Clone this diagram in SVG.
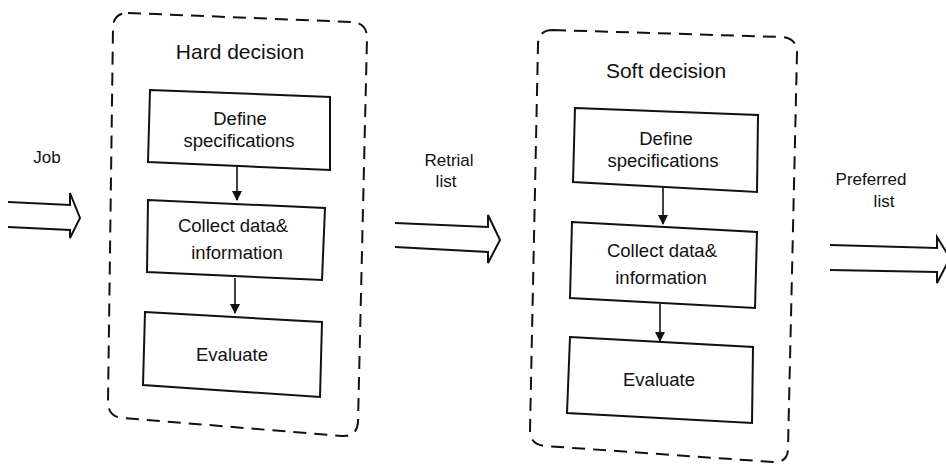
<svg xmlns="http://www.w3.org/2000/svg" width="946" height="465" viewBox="0 0 946 465">
<style>
.cont{fill:none;stroke:#111;stroke-width:2;stroke-dasharray:13 8}
.box{fill:#fff;stroke:#111;stroke-width:2}
.t{font-family:"Liberation Sans",Arial,sans-serif;font-size:18.5px;fill:#111;text-anchor:middle}
.s{font-family:"Liberation Sans",Arial,sans-serif;font-size:17px;fill:#111;text-anchor:middle}
.title{font-family:"Liberation Sans",Arial,sans-serif;font-size:21px;fill:#111;text-anchor:middle}
.big{fill:none;stroke:#111;stroke-width:2;stroke-linejoin:miter}
.link{stroke:#111;stroke-width:1.6;fill:none}
</style>
<defs>
<marker id="ah" markerWidth="10" markerHeight="12" refX="9" refY="5" orient="auto" markerUnits="userSpaceOnUse">
<path d="M0,0 L10,5 L0,10 Z" fill="#111"/>
</marker>
</defs>
<rect width="946" height="465" fill="#fff"/>

<g id="hard-decision">
<path class="cont" d="M128,13 L352,22 Q367,23 367,38 L358,422 Q357,437 342,436 L123,418 Q108,417 108,402 L113,28 Q113,13 128,13 Z"/>
<text class="title" x="240" y="59">Hard decision</text>
</g>
<g id="hard-define">
<path class="box" d="M150,90 L330,97 L330,170 L148,162 Z"/>
<text class="t" x="240" y="125">Define</text>
<text class="t" x="239" y="147">specifications</text>
</g>
<g id="hard-collect">
<path class="box" d="M148,200 L325,208 L322,280 L147,272 Z"/>
<text class="t" x="233" y="232">Collect data&amp;</text>
<text class="t" x="237" y="259">information</text>
</g>
<g id="hard-evaluate">
<path class="box" d="M145,312 L322,322 L320,397 L143,385 Z"/>
<text class="t" x="232" y="361">Evaluate</text>
</g>

<g id="soft-decision">
<path class="cont" d="M553,30 L782,37 Q797,38 797,53 L788,448 Q788,463 773,462 L545,446 Q530,445 530,430 L538,45 Q538,30 553,30 Z"/>
<text class="title" x="666" y="78">Soft decision</text>
</g>
<g id="soft-define">
<path class="box" d="M575,108 L758,115 L757,192 L573,182 Z"/>
<text class="t" x="666" y="145">Define</text>
<text class="t" x="663" y="167">specifications</text>
</g>
<g id="soft-collect">
<path class="box" d="M572,222 L757,232 L755,308 L570,298 Z"/>
<text class="t" x="662" y="257">Collect data&amp;</text>
<text class="t" x="661" y="284">information</text>
</g>
<g id="soft-evaluate">
<path class="box" d="M570,337 L753,347 L752,423 L567,413 Z"/>
<text class="t" x="659" y="386">Evaluate</text>
</g>

<g id="connectors">
<line class="link" x1="237" y1="166" x2="237" y2="200" marker-end="url(#ah)"/>
<line class="link" x1="235" y1="278" x2="235" y2="313" marker-end="url(#ah)"/>
<line class="link" x1="663" y1="188" x2="663" y2="224" marker-end="url(#ah)"/>
<line class="link" x1="660" y1="304" x2="660" y2="341" marker-end="url(#ah)"/>
<path class="big" d="M8,202 L70,205 L70,193 L80,218 L70,238 L70,230 L8,227"/>
<path class="big" d="M395,223 L488,227 L488,215 L500,240 L488,263 L488,252 L395,247"/>
<path class="big" d="M830,245 L937,248 L937,237 L950,258 L937,283 L937,272 L830,270"/>
<text class="s" x="47" y="163">Job</text>
<text class="s" x="449" y="166">Retrial</text>
<text class="s" x="446" y="187">list</text>
<text class="s" x="871" y="185">Preferred</text>
<text class="s" x="884" y="207">list</text>
</g>
</svg>
